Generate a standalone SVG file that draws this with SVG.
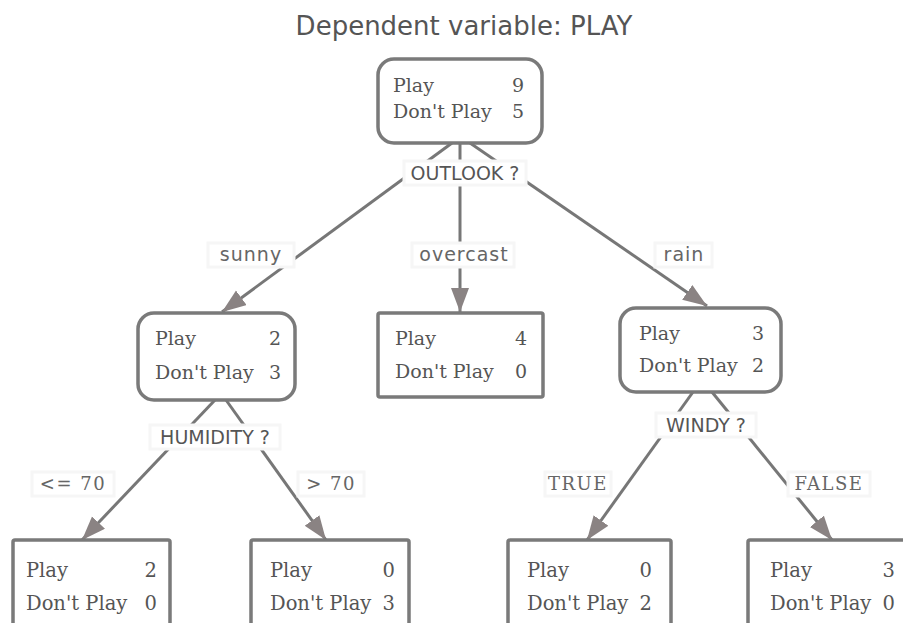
<svg xmlns="http://www.w3.org/2000/svg" width="903" height="623" viewBox="0 0 903 623">
<style>
.box{fill:#fff;stroke:#7a7a7a;stroke-width:3.5}
.t{font-family:"DejaVu Serif","Liberation Serif",serif;font-size:19px;fill:#555}
.n{font-family:"DejaVu Serif","Liberation Serif",serif;font-size:19px;fill:#555;text-anchor:end}
.leaf .t,.leaf .n{font-size:19.5px}
.split{font-family:"DejaVu Sans","Liberation Sans",sans-serif;font-size:19px;fill:#555;text-anchor:middle}
.el{font-family:"DejaVu Sans","Liberation Sans",sans-serif;font-size:19px;fill:#666;text-anchor:middle;letter-spacing:1px}
.els{font-family:"DejaVu Serif","Liberation Serif",serif;font-size:18px;fill:#666;text-anchor:middle;letter-spacing:1.5px}
.bg{fill:#fff;stroke:#f6f6f6;stroke-width:3}
.edge{stroke:#777;stroke-width:3;fill:none}
</style>
<defs>
<marker id="ah" markerUnits="userSpaceOnUse" markerWidth="26" markerHeight="20" refX="24" refY="9" orient="auto">
<path d="M0,0 L24,9 L0,18 z" fill="#8a8383"/>
</marker>
</defs>
<rect width="903" height="623" fill="#fff"/>
<text x="464" y="35" font-family="DejaVu Sans,Liberation Sans,sans-serif" font-size="26" fill="#555" text-anchor="middle">Dependent variable: PLAY</text>

<g id="edges">
<line class="edge" x1="452" y1="143" x2="222" y2="312" marker-end="url(#ah)"/>
<line class="edge" x1="460" y1="143" x2="460" y2="312" marker-end="url(#ah)"/>
<line class="edge" x1="470" y1="143" x2="707" y2="306" marker-end="url(#ah)"/>
<line class="edge" x1="215" y1="400" x2="82" y2="540" marker-end="url(#ah)"/>
<line class="edge" x1="226" y1="400" x2="326" y2="540" marker-end="url(#ah)"/>
<line class="edge" x1="693" y1="392" x2="587" y2="540" marker-end="url(#ah)"/>
<line class="edge" x1="712" y1="392" x2="832" y2="540" marker-end="url(#ah)"/>
</g>

<g id="labels">
<rect class="bg" x="404" y="161" width="122" height="24"/>
<text class="split" x="465" y="180">OUTLOOK ?</text>
<rect class="bg" x="208" y="243" width="86" height="24"/>
<text class="el" x="251" y="261">sunny</text>
<rect class="bg" x="412" y="243" width="102" height="24"/>
<text class="el" x="464" y="261">overcast</text>
<rect class="bg" x="655" y="243" width="57" height="24"/>
<text class="el" x="684" y="261">rain</text>
<rect class="bg" x="150" y="425" width="130" height="24"/>
<text class="split" x="215" y="444">HUMIDITY ?</text>
<rect class="bg" x="656" y="413" width="100" height="24"/>
<text class="split" x="706" y="432">WINDY ?</text>
<rect class="bg" x="32" y="472" width="82" height="24"/>
<text class="els" x="73" y="490">&lt;= 70</text>
<rect class="bg" x="298" y="472" width="66" height="24"/>
<text class="els" x="331" y="490">&gt; 70</text>
<rect class="bg" x="545" y="472" width="66" height="24"/>
<text class="els" x="578" y="490">TRUE</text>
<rect class="bg" x="788" y="472" width="82" height="24"/>
<text class="els" x="829" y="490">FALSE</text>
</g>

<g id="root">
<rect class="box" x="378" y="59" width="164" height="84" rx="16"/>
<text class="t" x="393" y="92">Play</text><text class="n" x="524" y="92">9</text>
<text class="t" x="393" y="118">Don't Play</text><text class="n" x="524" y="118">5</text>
</g>
<g id="sunny">
<rect class="box" x="138" y="313" width="157" height="87" rx="16"/>
<text class="t" x="155" y="345">Play</text><text class="n" x="281" y="345">2</text>
<text class="t" x="155" y="379">Don't Play</text><text class="n" x="281" y="379">3</text>
</g>
<g id="overcast">
<rect class="box" x="378" y="313" width="165" height="84" rx="2"/>
<text class="t" x="395" y="345">Play</text><text class="n" x="527" y="345">4</text>
<text class="t" x="395" y="378">Don't Play</text><text class="n" x="527" y="378">0</text>
</g>
<g id="rain">
<rect class="box" x="620" y="308" width="161" height="84" rx="16"/>
<text class="t" x="639" y="340">Play</text><text class="n" x="764" y="340">3</text>
<text class="t" x="639" y="372">Don't Play</text><text class="n" x="764" y="372">2</text>
</g>
<g id="leaf1" class="leaf">
<rect class="box" x="13" y="540" width="157" height="95" rx="2"/>
<text class="t" x="26" y="577">Play</text><text class="n" x="157" y="577">2</text>
<text class="t" x="26" y="610">Don't Play</text><text class="n" x="157" y="610">0</text>
</g>
<g id="leaf2" class="leaf">
<rect class="box" x="251" y="540" width="158" height="95" rx="2"/>
<text class="t" x="270" y="577">Play</text><text class="n" x="395" y="577">0</text>
<text class="t" x="270" y="610">Don't Play</text><text class="n" x="395" y="610">3</text>
</g>
<g id="leaf3" class="leaf">
<rect class="box" x="508" y="540" width="163" height="95" rx="2"/>
<text class="t" x="527" y="577">Play</text><text class="n" x="652" y="577">0</text>
<text class="t" x="527" y="610">Don't Play</text><text class="n" x="652" y="610">2</text>
</g>
<g id="leaf4" class="leaf">
<rect class="box" x="748" y="540" width="170" height="95" rx="2"/>
<text class="t" x="770" y="577">Play</text><text class="n" x="895" y="577">3</text>
<text class="t" x="770" y="610">Don't Play</text><text class="n" x="895" y="610">0</text>
</g>
</svg>
